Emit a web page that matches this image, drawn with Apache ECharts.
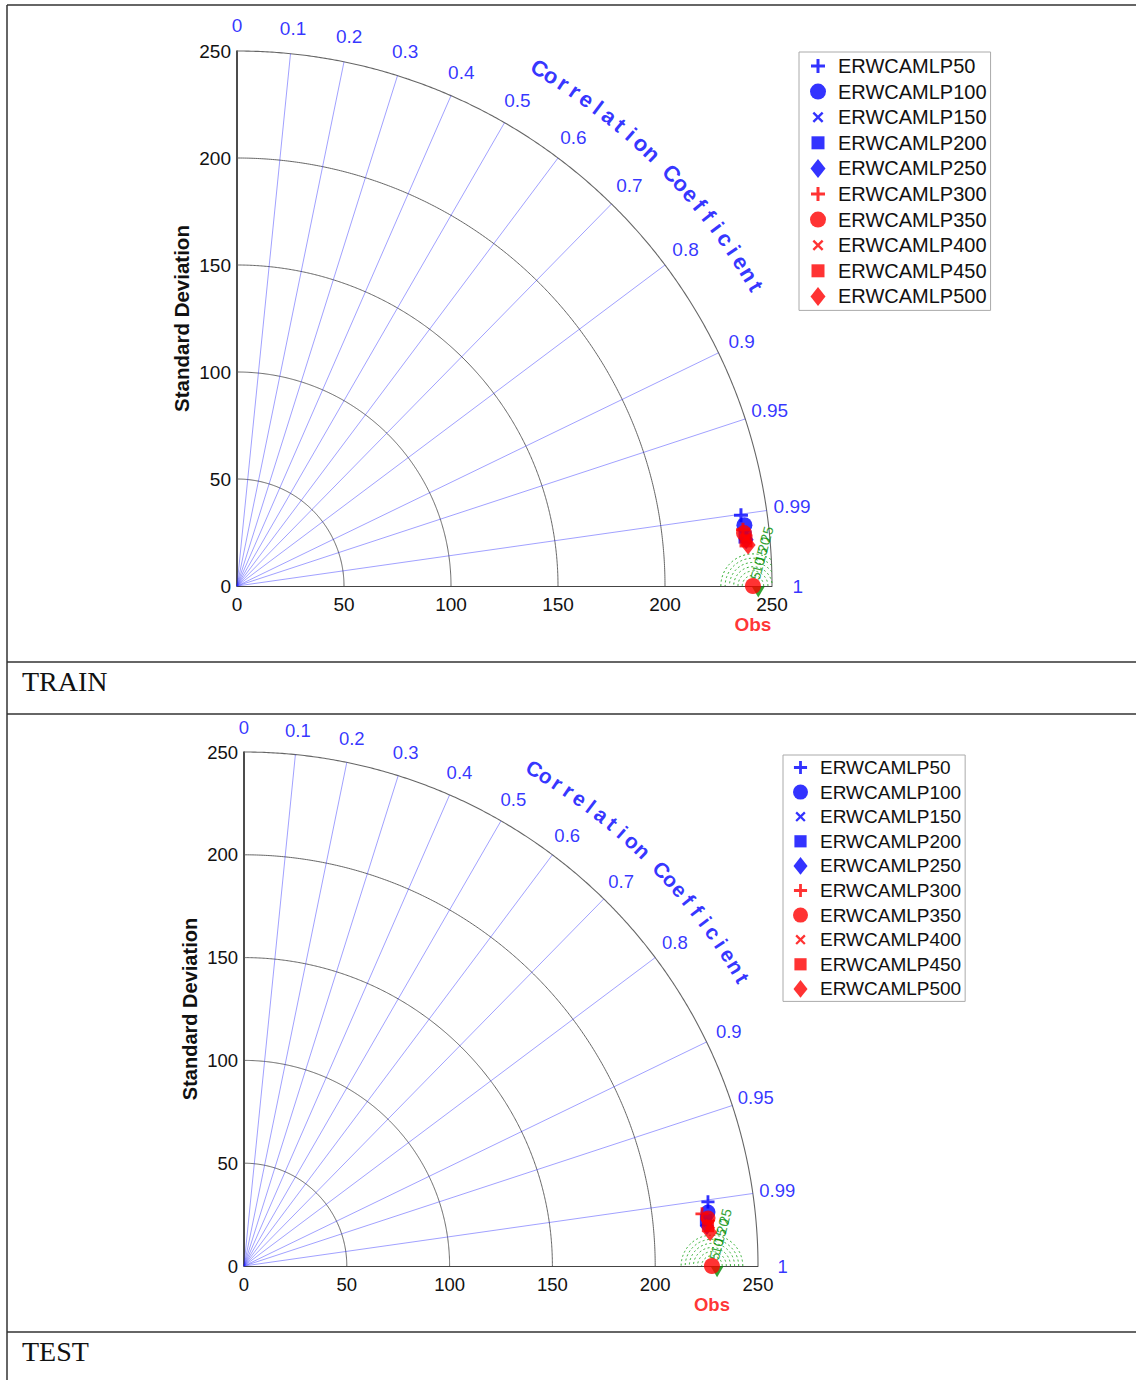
<!DOCTYPE html>
<html>
<head>
<meta charset="utf-8">
<script src="https://cdn.jsdelivr.net/npm/echarts@6/dist/echarts.min.js"></script>
<style>
  html, body { margin: 0; padding: 0; background: #fff; }
  #chart { width: 1136px; height: 1380px; }
</style>
</head>
<body>
<div id="chart"></div>
<script>
// ---- Model statistics (standard deviation, correlation with observations) ----
const modelNames = ['ERWCAMLP50', 'ERWCAMLP100', 'ERWCAMLP150', 'ERWCAMLP200', 'ERWCAMLP250',
                    'ERWCAMLP300', 'ERWCAMLP350', 'ERWCAMLP400', 'ERWCAMLP450', 'ERWCAMLP500'];
const modelColors = ['#0000ff', '#0000ff', '#0000ff', '#0000ff', '#0000ff',
                     '#ff0000', '#ff0000', '#ff0000', '#ff0000', '#ff0000'];
const modelShapes = ['plus', 'circle', 'cross', 'square', 'diamond',
                     'plus', 'circle', 'cross', 'square', 'diamond'];

const trainStd  = [237.8, 238.8, 238.1, 238.5, 238.9, 237.9, 238.2, 238.9, 238.8, 239.6];
const trainCorr = [0.9903, 0.9929, 0.9950, 0.9954, 0.9959, 0.9939, 0.9946, 0.9956, 0.9961, 0.9968];
const trainObsStd = 241.1;

const testStd  = [227.8, 227.2, 226.7, 225.8, 226.0, 224.2, 226.9, 227.6, 226.5, 227.3];
const testCorr = [0.9906, 0.9933, 0.9955, 0.9951, 0.9963, 0.9936, 0.9947, 0.9960, 0.9963, 0.9974];
const testObsStd = 227.6;

// ---- Axes / grid definitions ----
const stdMax = 250;
const stdArcs = [50, 100, 150, 200];
const corrGridLines = [0.1, 0.2, 0.3, 0.4, 0.5, 0.6, 0.7, 0.8, 0.9, 0.95, 0.99];
const corrTickValues = [0, 0.1, 0.2, 0.3, 0.4, 0.5, 0.6, 0.7, 0.8, 0.9, 0.95, 0.99, 1];
const corrTickLabels = ['0', '0.1', '0.2', '0.3', '0.4', '0.5', '0.6', '0.7', '0.8', '0.9', '0.95', '0.99', '1'];
const corrTitle = 'Correlation Coefficient';
const rmsRings = [5, 7, 9, 11, 13, 15];
const rmsLabels = [5, 10, 15, 20, 25];

// Marker outlines, all inside a 16 x 20 box so legend icons and markers share one scale
const BOX = 'M-8,-10M8,10';
const shapePaths = {
  plus: 'path://' + BOX + 'M-1.5,-7H1.5V-1.5H7V1.5H1.5V7H-1.5V1.5H-7V-1.5H-1.5Z',
  circle: 'path://' + BOX + 'M-8,0A8,8,0,1,0,8,0A8,8,0,1,0,-8,0Z',
  cross: 'path://' + BOX + 'M-5.5,-3.8L-3.8,-5.5L0,-1.7L3.8,-5.5L5.5,-3.8L1.7,0L5.5,3.8L3.8,5.5L0,1.7L-3.8,5.5L-5.5,3.8L-1.7,0Z',
  square: 'path://' + BOX + 'M-6.5,-6.5H6.5V6.5H-6.5Z',
  diamond: 'path://' + BOX + 'M0,-9.5L7.5,0L0,9.5L-7.5,0Z'
};

const FONT = '"Liberation Sans", Arial, sans-serif';
const BLUE = '#0000ff';
const GREEN = '#008c00';

// polar (std, correlation) -> cartesian data coordinates
function toXY(s, c) {
  return [s * c, s * Math.sqrt(Math.max(0, 1 - c * c))];
}

const panels = [
  { left: 237, top: 51, size: 535, std: trainStd, corr: trainCorr, obs: trainObsStd,
    tickFont: 19, titleFont: 20.5, nameGap: 45, corrFont: 22,
    legend: { left: 799, top: 52, iw: 16, ih: 20, font: 20, pad: [4, 4, 4, 11] }, sym: [16, 20] },
  { left: 244, top: 752, size: 514, std: testStd, corr: testCorr, obs: testObsStd,
    tickFont: 18.5, titleFont: 20, nameGap: 44, corrFont: 21,
    legend: { left: 783, top: 755, iw: 15, ih: 19, font: 19, pad: [3, 4, 3, 10] }, sym: [15, 19] }
];

const option = {
  animation: false,
  grid: [], xAxis: [], yAxis: [], legend: [], series: [],
  graphic: []
};

panels.forEach((p, k) => {
  option.grid.push({ left: p.left, top: p.top, width: p.size, height: p.size, containLabel: false });
  option.xAxis.push({
    gridIndex: k, type: 'value', min: 0, max: stdMax, interval: 50,
    axisLine: { show: true, onZero: false, lineStyle: { color: '#444', width: 1 } },
    axisTick: { show: false }, splitLine: { show: false },
    axisLabel: { color: '#111', fontSize: p.tickFont, fontFamily: FONT, margin: 9 }
  });
  option.yAxis.push({
    gridIndex: k, type: 'value', min: 0, max: stdMax, interval: 50,
    name: 'Standard Deviation', nameLocation: 'middle', nameGap: p.nameGap, nameRotate: 90,
    nameTextStyle: { color: '#111', fontSize: p.titleFont, fontWeight: 'bold', fontFamily: FONT },
    axisLine: { show: true, onZero: false, lineStyle: { color: '#111', width: 1.5 } },
    axisTick: { show: false }, splitLine: { show: false },
    axisLabel: { color: '#111', fontSize: p.tickFont, fontFamily: FONT, margin: 6 }
  });

  const ax = { xAxisIndex: k, yAxisIndex: k };
  const base = Object.assign({ silent: true, animation: false }, ax);

  // standard deviation arcs
  stdArcs.concat([stdMax]).forEach(r => {
    const pts = [];
    for (let a = 0; a <= 90.0001; a += 0.25) {
      const t = a * Math.PI / 180;
      pts.push([r * Math.cos(t), r * Math.sin(t)]);
    }
    option.series.push(Object.assign({}, base, {
      type: 'line', data: pts, showSymbol: false, symbol: 'none', clip: false,
      lineStyle: { color: r === stdMax ? '#666' : '#555', width: r === stdMax ? 1.1 : 0.9 }, z: 1
    }));
  });

  // correlation rays
  corrGridLines.forEach(c => {
    option.series.push(Object.assign({}, base, {
      type: 'line', data: [[0, 0], toXY(stdMax, c)], showSymbol: false, symbol: 'none', clip: false,
      lineStyle: { color: 'rgba(40,40,255,0.55)', width: 0.8 }, z: 1
    }));
  });

  // correlation tick labels
  option.series.push(Object.assign({}, base, {
    type: 'scatter', symbolSize: 0, clip: false, z: 3,
    data: corrTickValues.map((c, i) => ({ name: corrTickLabels[i], value: toXY(262, c) })),
    label: { show: true, position: 'inside', formatter: '{b}', color: BLUE,
             fontSize: p.tickFont, fontFamily: FONT }
  }));

  // curved axis title, one character per step along the arc
  const chars = corrTitle.split('');
  const a0 = 59.7, a1 = 30.0;
  option.series.push(Object.assign({}, base, {
    type: 'scatter', symbolSize: 0, clip: false, z: 3,
    data: chars.map((ch, i) => {
      const deg = a0 - i * (a0 - a1) / (chars.length - 1);
      const t = deg * Math.PI / 180;
      return { name: ch, value: [280 * Math.cos(t), 280 * Math.sin(t)],
               label: { rotate: deg - 90 } };
    }),
    label: { show: true, position: 'inside', formatter: '{b}', color: BLUE,
             fontSize: p.corrFont, fontWeight: 'bold', fontFamily: FONT }
  }));

  // centred RMS difference contours around the observation point
  rmsRings.forEach(rho => {
    const pts = [];
    for (let a = 0; a <= 180.0001; a += 1) {
      const t = a * Math.PI / 180;
      const x = p.obs + rho * Math.cos(t), y = rho * Math.sin(t);
      if (Math.hypot(x, y) <= stdMax) pts.push([x, y]);
    }
    option.series.push(Object.assign({}, base, {
      type: 'line', data: pts, showSymbol: false, symbol: 'none', clip: false,
      lineStyle: { color: '#2fae2f', width: 1, type: [2, 2.5] }, z: 2
    }));
  });
  const labAng = 75 * Math.PI / 180;
  option.series.push(Object.assign({}, base, {
    type: 'scatter', symbolSize: 0, clip: false, z: 4,
    data: rmsLabels.map(r => ({ name: String(r),
      value: [p.obs + r * Math.cos(labAng), r * Math.sin(labAng)] })),
    label: { show: true, position: 'inside', formatter: '{b}', color: GREEN,
             fontSize: 14, fontFamily: FONT, rotate: 75 }
  }));

  // observation reference point
  option.series.push(Object.assign({}, ax, {
    type: 'scatter', name: 'Obs', clip: false, z: 5, silent: true,
    symbol: 'circle', symbolSize: 16, itemStyle: { color: '#ff0000' },
    data: [[p.obs, 0]],
    label: { show: true, position: 'bottom', distance: 21, formatter: 'Obs', color: '#ff0000',
             fontSize: p.tickFont, fontWeight: 'bold', fontFamily: FONT }
  }));
  option.series.push(Object.assign({}, ax, {
    type: 'scatter', clip: false, z: 4, silent: true,
    symbol: 'triangle', symbolSize: [13, 11], symbolRotate: 180, itemStyle: { color: GREEN },
    data: [[p.obs + 2.5, -2.8]]
  }));

  // models
  modelNames.forEach((nm, i) => {
    option.series.push(Object.assign({}, ax, {
      type: 'scatter', name: nm, clip: false, z: 6 + i, silent: true,
      symbol: shapePaths[modelShapes[i]], symbolSize: p.sym,
      itemStyle: { color: modelColors[i] },
      data: [toXY(p.std[i], p.corr[i])]
    }));
  });

  option.legend.push({
    orient: 'vertical', left: p.legend.left, top: p.legend.top,
    data: modelNames, selectedMode: false,
    itemWidth: p.legend.iw, itemHeight: p.legend.ih, itemGap: 5.6,
    padding: p.legend.pad, borderColor: '#aaa', borderWidth: 1, backgroundColor: '#fff',
    textStyle: { color: '#111', fontSize: p.legend.font, fontFamily: FONT,
                 lineHeight: p.legend.ih, padding: [0, 0, 0, 7] }
  });
});

// table frame and row captions
const frameStroke = { stroke: '#333', lineWidth: 1.5 };
[[7, 5, 1136, 5], [7, 5, 7, 1380], [7, 662, 1136, 662], [7, 714, 1136, 714], [7, 1332, 1136, 1332]]
  .forEach(s => option.graphic.push({ type: 'line', silent: true,
    shape: { x1: s[0], y1: s[1], x2: s[2], y2: s[3] }, style: frameStroke }));
option.graphic.push({ type: 'text', x: 22, y: 681, silent: true,
  style: { text: 'TRAIN', font: '28px "Liberation Serif", "Times New Roman", serif', fill: '#111', verticalAlign: 'middle' } });
option.graphic.push({ type: 'text', x: 22, y: 1351, silent: true,
  style: { text: 'TEST', font: '28px "Liberation Serif", "Times New Roman", serif', fill: '#111', verticalAlign: 'middle' } });

const chart = echarts.init(document.getElementById('chart'), null, { renderer: 'svg' });
chart.setOption(option);
</script>
</body>
</html>
